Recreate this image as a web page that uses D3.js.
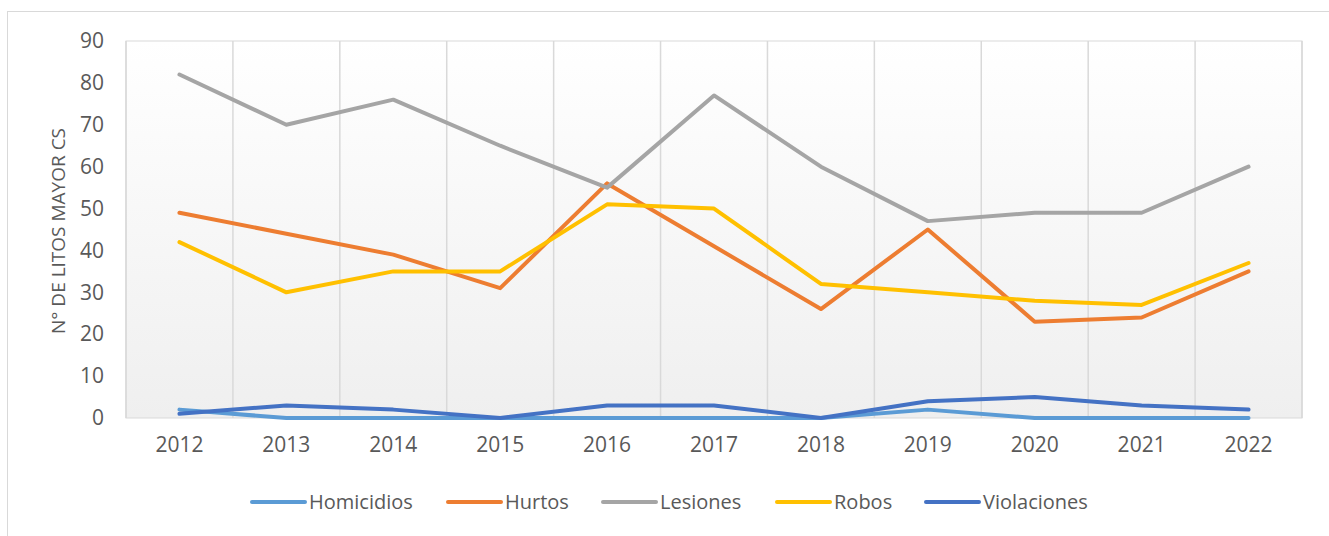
<!DOCTYPE html>
<html>
<head>
<meta charset="utf-8">
<script src="https://cdn.jsdelivr.net/npm/d3@7"></script>
<style>
  body { margin: 0; background: #fff; }
  text { font-family: "Open Sans", "Noto Sans", sans-serif; fill: #595959; }
</style>
</head>
<body>
<div id="chart"></div>
<script>
// data
var years = ["2012","2013","2014","2015","2016","2017","2018","2019","2020","2021","2022"];
var homicidios  = [2, 0, 0, 0, 0, 0, 0, 2, 0, 0, 0];
var hurtos      = [49, 44, 39, 31, 56, 41, 26, 45, 23, 24, 35];
var lesiones    = [82, 70, 76, 65, 55, 77, 60, 47, 49, 49, 60];
var robos       = [42, 30, 35, 35, 51, 50, 32, 30, 28, 27, 37];
var violaciones = [1, 3, 2, 0, 3, 3, 0, 4, 5, 3, 2];
var yTicks = [0, 10, 20, 30, 40, 50, 60, 70, 80, 90];

var series = [
  {name: "Homicidios", values: homicidios, color: "#5b9bd5"},
  {name: "Hurtos", values: hurtos, color: "#ed7d31"},
  {name: "Lesiones", values: lesiones, color: "#a5a5a5"},
  {name: "Robos", values: robos, color: "#ffc000"},
  {name: "Violaciones", values: violaciones, color: "#4472c4"}
];

var W = 1329, H = 536;
var margin = {top: 41, right: 27, bottom: 118, left: 126},
    width = W - margin.left - margin.right,
    height = H - margin.top - margin.bottom;

var svg = d3.select("#chart").append("svg")
  .attr("width", W)
  .attr("height", H);

// outer chart border
svg.append("rect")
  .attr("x", 7.5).attr("y", 11.5)
  .attr("width", W).attr("height", H)
  .attr("fill", "none")
  .attr("stroke", "#d9d9d9");

var defs = svg.append("defs");
var grad = defs.append("linearGradient")
  .attr("id", "bg").attr("x1", 0).attr("y1", 0).attr("x2", 0).attr("y2", 1);
grad.append("stop").attr("offset", "0%").attr("stop-color", "#ffffff");
grad.append("stop").attr("offset", "100%").attr("stop-color", "#efefef");

var g = svg.append("g")
  .attr("transform", "translate(" + margin.left + "," + margin.top + ")");

var x = d3.scaleBand().domain(years).range([0, width]);
var y = d3.scaleLinear().domain([0, 90]).range([height, 0]);

//Plot background
g.append("rect")
  .attr("width", width).attr("height", height)
  .attr("fill", "url(#bg)")
  .attr("stroke", "#d9d9d9");

//Vertical gridlines at category boundaries
var bounds = years.map(function(d) { return x(d); }).concat([width]);
g.selectAll("line.grid")
  .data(bounds)
  .enter().append("line")
  .attr("class", "grid")
  .attr("x1", function(d) { return d; })
  .attr("x2", function(d) { return d; })
  .attr("y1", 0).attr("y2", height)
  .attr("stroke", "#d9d9d9")
  .attr("stroke-width", 1.5);

//Axes
var yAxis = g.append("g")
  .call(d3.axisLeft(y).tickValues(yTicks).tickSize(0).tickPadding(22));
yAxis.select(".domain").remove();
yAxis.selectAll("text").style("font-size", "21px").style("fill", "#595959");

var xAxis = g.append("g")
  .attr("transform", "translate(0," + height + ")")
  .call(d3.axisBottom(x).tickSize(0).tickPadding(19));
xAxis.select(".domain").remove();
xAxis.selectAll("text").style("font-size", "21px").style("fill", "#595959");

//Y title
svg.append("text")
  .attr("transform", "translate(65,231) rotate(-90)")
  .attr("text-anchor", "middle")
  .style("font-size", "19px")
  .text("N°  DE LITOS MAYOR CS");

//Lines
var line = d3.line()
  .x(function(d, i) { return x(years[i]) + x.bandwidth() / 2; })
  .y(function(d) { return y(d); });

g.selectAll("path.serie")
  .data(series)
  .enter().append("path")
  .attr("class", "serie")
  .attr("d", function(d) { return line(d.values); })
  .attr("fill", "none")
  .attr("stroke", function(d) { return d.color; })
  .attr("stroke-width", 4)
  .attr("stroke-linejoin", "round")
  .attr("stroke-linecap", "round");

//Legend
var legendX = [252, 448, 603, 777, 926];
var legend = svg.selectAll("g.legend")
  .data(series)
  .enter().append("g")
  .attr("class", "legend")
  .attr("transform", function(d, i) { return "translate(" + legendX[i] + ",502)"; });
legend.append("line")
  .attr("x1", 0).attr("x2", 53)
  .attr("stroke", function(d) { return d.color; })
  .attr("stroke-width", 4)
  .attr("stroke-linecap", "round");
legend.append("text")
  .attr("x", 57).attr("dy", "0.35em")
  .style("font-size", "20px")
  .text(function(d) { return d.name; });
</script>
</body>
</html>
